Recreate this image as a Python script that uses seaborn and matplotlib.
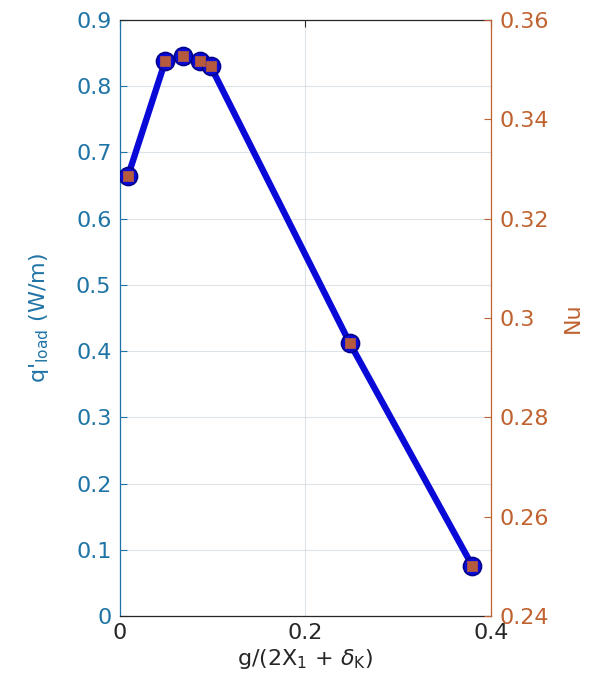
import matplotlib
matplotlib.use("Agg")
import matplotlib.pyplot as plt
import seaborn as sns
import pandas as pd

# data
gap_ratio = [0.009, 0.049, 0.068, 0.087, 0.098, 0.248, 0.380]
q_load = [0.665, 0.838, 0.845, 0.838, 0.830, 0.412, 0.076]
nu = [0.3287, 0.3517, 0.3527, 0.3517, 0.3507, 0.2949, 0.2501]
x_ticks = [0, 0.2, 0.4]
x_labels = ["0", "0.2", "0.4"]
left_ticks = [0, 0.1, 0.2, 0.3, 0.4, 0.5, 0.6, 0.7, 0.8, 0.9]
left_labels = ["0", "0.1", "0.2", "0.3", "0.4", "0.5", "0.6", "0.7", "0.8", "0.9"]
right_ticks = [0.24, 0.26, 0.28, 0.30, 0.32, 0.34, 0.36]
right_labels = ["0.24", "0.26", "0.28", "0.3", "0.32", "0.34", "0.36"]

df = pd.DataFrame({"x": gap_ratio, "q": q_load, "nu": nu})

sns.set_style("white")
plt.rcParams["font.family"] = ["DejaVu Sans"]
plt.rcParams["mathtext.fontset"] = "dejavusans"

LEFT_C = "#1F74A6"
RIGHT_C = "#C0622F"
AX_C = "#262626"
FS = 16

fig = plt.figure(figsize=(5.9, 6.9), dpi=100)
ax = fig.add_axes([0.203, 0.107, 0.629, 0.864])

sns.lineplot(data=df, x="x", y="q", ax=ax, color="#0A0AD8", linewidth=4.6,
             marker="o", markersize=13, markerfacecolor="#0A0AD8",
             markeredgecolor="#00008F", markeredgewidth=1.2, zorder=3)

ax.set_xlim(0, 0.4)
ax.set_ylim(0, 0.9)
ax.set_xticks(x_ticks)
ax.set_xticklabels(x_labels)
ax.set_yticks(left_ticks)
ax.set_yticklabels(left_labels)
ax.grid(True, color="#DCE4EA", linewidth=0.8)
ax.set_axisbelow(True)

ax.tick_params(axis="x", direction="in", length=5, colors=AX_C, labelsize=FS,
               top=True, pad=5)
ax.tick_params(axis="y", direction="in", length=5, colors=LEFT_C, labelsize=FS,
               pad=6, right=False)

ax.set_xlabel(r"g/(2X$_1$ + $\delta_{\mathregular{K}}$)", fontsize=FS, color=AX_C, labelpad=3)
ax.set_ylabel(r"q'$_{\mathregular{load}}$ (W/m)", fontsize=FS, color=LEFT_C, labelpad=18)

for s in ["top", "bottom"]:
    ax.spines[s].set_color(AX_C)
    ax.spines[s].set_linewidth(0.9)
ax.spines["left"].set_color(LEFT_C)
ax.spines["left"].set_linewidth(0.9)
ax.spines["right"].set_visible(False)

ax2 = ax.twinx()
sns.scatterplot(data=df, x="x", y="nu", ax=ax2, marker="s", s=42,
                color="#B55A3C", edgecolor="#B55A3C", linewidth=0.5, zorder=4)
ax2.set_ylim(0.24, 0.36)
ax2.set_yticks(right_ticks)
ax2.set_yticklabels(right_labels)
ax2.tick_params(axis="y", direction="in", length=5, colors=RIGHT_C, labelsize=FS, pad=6)
ax2.set_ylabel("Nu", fontsize=FS, color=RIGHT_C, rotation=90, labelpad=10)
ax2.spines["right"].set_color(RIGHT_C)
ax2.spines["right"].set_linewidth(0.9)
for s in ["top", "bottom", "left"]:
    ax2.spines[s].set_visible(False)
ax2.grid(False)

fig.savefig("out.png", dpi=100, facecolor="white")
